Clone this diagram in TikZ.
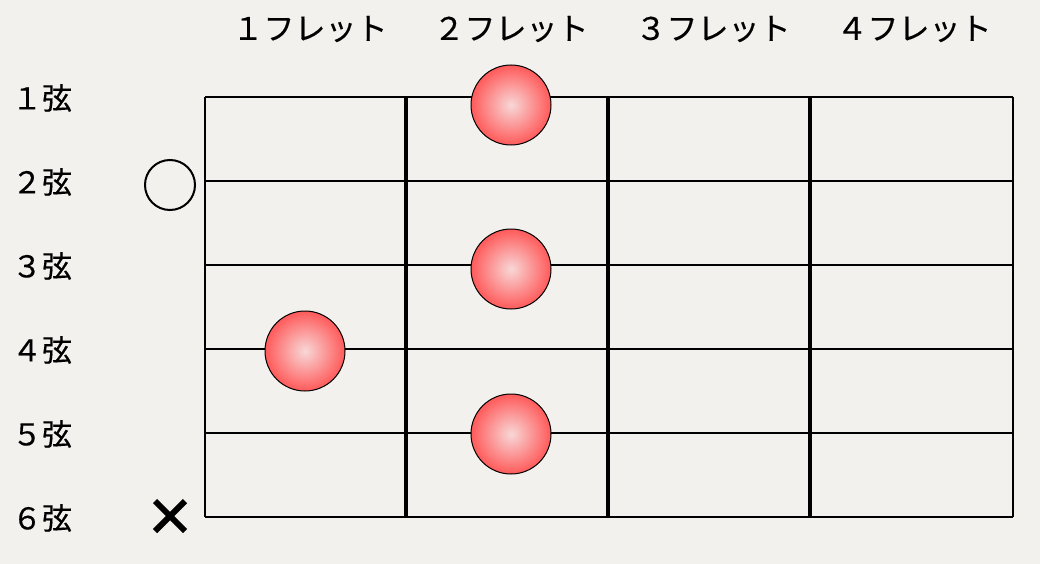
\documentclass[tikz,border=0pt]{standalone}
\usepackage{fontspec}
\usetikzlibrary{calc}
\newfontfamily\jp[FakeBold=0.4]{Noto Sans CJK JP}
\definecolor{bg}{RGB}{242,241,237}
\definecolor{dotout}{RGB}{255,90,90}
\definecolor{dotin}{RGB}{248,215,215}
\begin{document}
\begin{tikzpicture}[x=1pt,y=-1pt,
  fretlbl/.style={font=\jp\fontsize{31}{33}\selectfont, anchor=center, inner sep=0pt},
  strlbl/.style={font=\jp\fontsize{30}{32}\selectfont, anchor=center, inner sep=0pt},
  stringline/.style={line width=2pt, black},
  fretline/.style={line width=3.5pt, black},
  fdot/.style={circle, minimum size=80pt, inner sep=0pt, draw=black, line width=1pt, inner color=dotin, outer color=dotout},
  openmark/.style={circle, minimum size=50pt, inner sep=0pt, draw=black, line width=2pt},
]
\fill[bg] (0,0) rectangle (1040,564);
\useasboundingbox (0,0) rectangle (1040,564);
% strings
\foreach \i/\y in {1/97,2/181,3/265,4/349,5/433,6/517}{
  \coordinate (sL\i) at (205,\y);
  \coordinate (sR\i) at (1013,\y);
  \draw[stringline] (sL\i) -- (sR\i);
}
% frets
\coordinate (fT0) at (205,97); \coordinate (fB0) at (205,517);
\coordinate (fT4) at (1013,97); \coordinate (fB4) at (1013,517);
\draw[stringline] (fT0) -- (fB0);
\draw[stringline] (fT4) -- (fB4);
\foreach \j/\x in {1/406,2/608,3/810}{
  \coordinate (fT\j) at (\x,97);
  \coordinate (fB\j) at (\x,517);
  \draw[fretline] (fT\j) -- (fB\j);
}
% fret labels
\node[fretlbl] (f1) at (310,29) {１フレット};
\node[fretlbl] (f2) at (511,29) {２フレット};
\node[fretlbl] (f3) at (713,29) {３フレット};
\node[fretlbl] (f4) at (914,29) {４フレット};
% string labels
\node[strlbl] (s1) at (42,98) {１弦};
\node[strlbl] (s2) at (42,182) {２弦};
\node[strlbl] (s3) at (42,266) {３弦};
\node[strlbl] (s4) at (42,350) {４弦};
\node[strlbl] (s5) at (42,434) {５弦};
\node[strlbl] (s6) at (42,518) {６弦};
% dots
\node[fdot] (d1) at (511,105) {};
\node[fdot] (d3) at (511,269) {};
\node[fdot] (d4) at (305,351) {};
\node[fdot] (d5) at (511,434) {};
% open / mute
\node[openmark] (o2) at (170,185) {};
\coordinate (xc) at (170,516);
\draw[line width=6pt] ($(xc)+(-15,-15)$) -- ($(xc)+(15,15)$);
\draw[line width=6pt] ($(xc)+(-15,15)$) -- ($(xc)+(15,-15)$);
\end{tikzpicture}
\end{document}
